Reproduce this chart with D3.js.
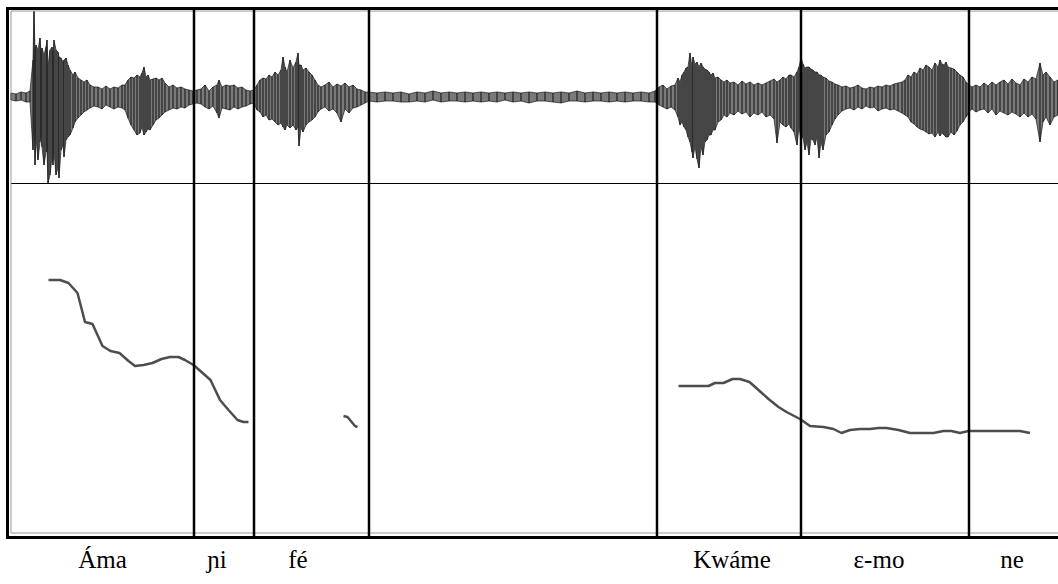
<!DOCTYPE html>
<html lang="en">
<head>
    <meta charset="UTF-8">
    <title>Waveform and pitch</title>
    <script src="https://d3js.org/d3.v7.min.js"></script>
    <style>
        body { margin: 0; background: #fff; }
        svg { display: block; }
    </style>
</head>
<body>
    <div id="chart"></div>
    <script>
        // time in ms, boundaries between syllables
        const boundaries = [366, 486, 716, 1292, 1580, 1916];

        const labels = ['Áma', 'ɲi', 'fé', 'Kwáme', 'ɛ-mo', 'ne'];
        const labelTimes = [183, 412, 574, 1442, 1736, 2002];

        // waveform envelope: [time ms, positive peak, negative peak]
        const waveSamples = [
            [0, .04, .03], [10, .03, .04], [20, .05, .03], [30, .04, .05], [38, .06, .05],
            [44, .37, .53], [46, .86, .2], [48, .45, .68], [50, .52, .4], [54, .47, .63],
            [58, .59, .45], [60, .45, .38], [62, .49, .5], [66, .42, .68], [70, .5, .55],
            [72, .57, .53], [74, .3, .86], [78, .47, .78], [82, .5, .6], [84, .4, .68],
            [86, .57, .55], [90, .47, .78], [94, .45, .7], [96, .4, .81], [100, .39, .53],
            [104, .35, .48], [106, .37, .6], [110, .39, .43], [114, .32, .4], [118, .27, .38],
            [124, .22, .31], [128, .25, .25], [134, .19, .21], [140, .17, .18], [146, .15, .15],
            [152, .17, .13], [158, .12, .11], [166, .1, .09], [174, .1, .1], [182, .08, .12],
            [190, .11, .08], [198, .08, .1], [206, .1, .12], [214, .09, .1], [222, .12, .11],
            [228, .12, .13], [234, .17, .21], [240, .2, .28], [246, .19, .33], [252, .22, .38],
            [258, .2, .36], [262, .24, .3], [266, .3, .38], [270, .2, .35], [274, .22, .32],
            [278, .17, .33], [284, .18, .28], [290, .19, .23], [296, .17, .21], [302, .19, .18],
            [308, .14, .15], [316, .1, .13], [324, .12, .11], [332, .09, .12], [340, .1, .1],
            [348, .08, .11], [356, .07, .08], [364, .06, .07], [372, .07, .06], [380, .08, .07],
            [388, .12, .1], [396, .06, .12], [404, .1, .09], [412, .12, .16], [416, .17, .21],
            [422, .1, .11], [430, .12, .12], [438, .11, .13], [446, .12, .1], [454, .09, .12],
            [462, .1, .1], [470, .07, .09], [478, .06, .07], [486, .07, .06], [492, .12, .13],
            [498, .17, .15], [504, .19, .2], [510, .18, .18], [516, .22, .23], [522, .2, .22],
            [528, .25, .25], [534, .22, .28], [540, .27, .26], [544, .4, .3], [548, .3, .33],
            [552, .25, .28], [558, .37, .31], [564, .29, .28], [570, .35, .33], [574, .44, .3],
            [576, .32, .49], [580, .32, .31], [584, .27, .35], [590, .29, .28], [596, .25, .25],
            [602, .22, .23], [608, .17, .2], [614, .12, .15], [620, .1, .12], [628, .12, .1],
            [636, .15, .14], [644, .1, .12], [652, .13, .16], [660, .11, .25], [668, .14, .12],
            [676, .1, .16], [684, .12, .11], [692, .08, .1], [700, .07, .08], [708, .05, .06],
            [716, .05, .04], [732, .04, .05], [748, .05, .04], [764, .04, .04], [780, .05, .05],
            [796, .03, .05], [812, .05, .04], [828, .04, .05], [844, .06, .03], [860, .04, .05],
            [876, .05, .04], [892, .04, .04], [908, .05, .05], [924, .04, .04], [940, .05, .05],
            [956, .04, .04], [972, .05, .05], [988, .04, .03], [1004, .05, .05], [1020, .04, .04],
            [1036, .05, .06], [1052, .04, .04], [1068, .05, .04], [1084, .04, .05], [1100, .05, .06],
            [1116, .04, .04], [1132, .06, .04], [1148, .04, .05], [1164, .05, .04], [1180, .04, .04],
            [1196, .05, .05], [1212, .04, .04], [1228, .05, .05], [1244, .04, .04], [1260, .05, .04],
            [1276, .04, .05], [1288, .06, .05], [1296, .1, .08], [1304, .12, .1], [1312, .08, .12],
            [1320, .11, .1], [1328, .12, .13], [1334, .19, .2], [1338, .15, .28], [1342, .22, .25],
            [1346, .25, .3], [1350, .29, .33], [1354, .3, .4], [1358, .44, .45], [1362, .3, .55],
            [1364, .4, .61], [1368, .33, .5], [1372, .35, .62], [1376, .3, .71], [1380, .34, .5],
            [1384, .3, .58], [1388, .28, .45], [1392, .27, .43], [1396, .25, .38], [1400, .22, .38],
            [1404, .24, .33], [1408, .19, .33], [1414, .2, .25], [1420, .17, .23], [1426, .15, .18],
            [1432, .17, .2], [1438, .14, .16], [1446, .15, .18], [1454, .12, .14], [1462, .16, .17],
            [1470, .13, .15], [1478, .15, .2], [1486, .12, .16], [1494, .14, .18], [1502, .12, .15],
            [1510, .14, .2], [1518, .16, .18], [1526, .18, .22], [1532, .15, .46], [1538, .17, .25],
            [1544, .2, .28], [1550, .18, .3], [1556, .22, .27], [1560, .22, .31], [1566, .2, .35],
            [1572, .25, .48], [1576, .3, .3], [1580, .39, .43], [1584, .33, .4], [1588, .29, .53],
            [1592, .3, .45], [1596, .3, .58], [1600, .28, .42], [1604, .27, .43], [1608, .25, .48],
            [1612, .25, .4], [1616, .22, .61], [1620, .22, .45], [1624, .2, .53], [1630, .19, .38],
            [1636, .16, .35], [1642, .15, .28], [1648, .13, .22], [1654, .12, .18], [1662, .1, .14],
            [1670, .11, .12], [1678, .09, .11], [1686, .1, .13], [1694, .12, .1], [1702, .09, .12],
            [1710, .08, .09], [1718, .1, .11], [1726, .09, .1], [1734, .11, .14], [1742, .1, .12],
            [1750, .12, .11], [1758, .11, .13], [1766, .13, .12], [1774, .14, .14], [1782, .15, .16],
            [1788, .17, .18], [1794, .22, .2], [1800, .2, .25], [1806, .25, .27], [1812, .23, .3],
            [1818, .29, .32], [1824, .27, .33], [1830, .32, .35], [1836, .3, .37], [1842, .27, .36],
            [1848, .34, .4], [1854, .3, .35], [1858, .37, .39], [1862, .33, .36], [1866, .32, .38],
            [1870, .35, .4], [1874, .3, .4], [1880, .29, .35], [1886, .28, .38], [1892, .25, .34],
            [1898, .22, .28], [1904, .2, .25], [1910, .15, .2], [1916, .12, .15], [1922, .1, .12],
            [1930, .12, .15], [1938, .1, .13], [1946, .14, .12], [1954, .11, .16], [1962, .15, .12],
            [1970, .12, .18], [1978, .15, .14], [1986, .17, .16], [1994, .13, .18], [2002, .18, .15],
            [2010, .14, .17], [2018, .12, .2], [2026, .18, .16], [2034, .15, .2], [2042, .2, .17],
            [2050, .18, .22], [2058, .34, .45], [2064, .22, .25], [2070, .25, .2], [2078, .2, .28],
            [2086, .15, .2], [2094, .17, .18]
        ];

        // pitch contours: [time ms, Hz]
        const pitchAma = [
            [75, 303], [98, 303], [115, 300], [133, 290], [148, 261], [163, 259], [183, 237],
            [199, 232], [217, 230], [235, 222], [248, 217], [265, 218], [283, 220], [301, 224],
            [318, 226], [335, 226], [348, 223], [365, 218], [381, 211], [399, 203], [418, 183],
            [435, 173], [453, 163], [465, 161], [475, 161]
        ];
        const pitchFe = [[665, 167], [673, 166], [688, 157], [693, 156]];
        const pitchKwame = [
            [1335, 197], [1395, 197], [1408, 200], [1425, 200], [1443, 204], [1458, 204],
            [1477, 201], [1495, 193], [1515, 184], [1535, 176], [1551, 171], [1578, 164],
            [1598, 157], [1625, 156], [1645, 154], [1661, 150], [1678, 153], [1698, 154],
            [1718, 154], [1735, 155], [1751, 155], [1775, 153], [1798, 150], [1845, 150],
            [1865, 152], [1881, 152], [1898, 150], [1915, 152], [2018, 152], [2038, 150]
        ];

        const width = 1058, height = 584;
        const left = 11, right = 1058;
        const waveTop = 11, split = 183, pitchBottom = 533;

        const svg = d3.select('#chart').append('svg')
            .attr('width', width)
            .attr('height', height);

        const x = d3.scaleLinear().domain([0, 2094]).range([left, right]);
        const yWave = d3.scaleLinear().domain([-0.86, 0.86]).range([split, waveTop]);
        const yPitch = d3.scaleLinear().domain([50, 400]).range([pitchBottom, split]);

        // waveform: grey body, then one dark stroke per peak
        const waveArea = d3.area()
            .x(d => x(d[0]))
            .y0(d => yWave(-d[2]))
            .y1(d => yWave(d[1]));

        svg.append('path')
            .datum(waveSamples)
            .attr('d', waveArea)
            .attr('fill', '#7a7a7a')
            .attr('stroke', '#1a1a1a')
            .attr('stroke-width', 0.7);

        svg.append('g').selectAll('line')
            .data(waveSamples)
            .enter().append('line')
            .attr('x1', d => x(d[0]))
            .attr('x2', d => x(d[0]))
            .attr('y1', d => yWave(-d[2]))
            .attr('y2', d => yWave(d[1]))
            .attr('stroke', '#111')
            .attr('stroke-width', 1);

        // pitch
        const pitchLine = d3.line()
            .x(d => x(d[0]))
            .y(d => yPitch(d[1]));

        [pitchAma, pitchFe, pitchKwame].forEach(seg => {
            svg.append('path')
                .datum(seg)
                .attr('d', pitchLine)
                .attr('fill', 'none')
                .attr('stroke', '#4d4d4d')
                .attr('stroke-width', 2.5)
                .attr('stroke-linejoin', 'round');
        });

        // frame
        svg.append('line')
            .attr('x1', left).attr('x2', right)
            .attr('y1', split + 0.5).attr('y2', split + 0.5)
            .attr('stroke', '#000').attr('stroke-width', 1);

        const inner = `M${right},${waveTop} H${left} V${pitchBottom} H${right}`;
        svg.append('path')
            .attr('d', inner)
            .attr('fill', 'none')
            .attr('stroke', '#999')
            .attr('stroke-width', 1);

        const outer = `M${right},8.5 H7.5 V537.5 H${right}`;
        svg.append('path')
            .attr('d', outer)
            .attr('fill', 'none')
            .attr('stroke', '#000')
            .attr('stroke-width', 3);

        svg.append('g').selectAll('line')
            .data(boundaries)
            .enter().append('line')
            .attr('x1', d => x(d))
            .attr('x2', d => x(d))
            .attr('y1', 10)
            .attr('y2', 536)
            .attr('stroke', '#000')
            .attr('stroke-width', 2.5);

        // syllable labels
        svg.append('g').selectAll('text')
            .data(labels)
            .enter().append('text')
            .attr('x', (d, i) => x(labelTimes[i]))
            .attr('y', 568)
            .attr('text-anchor', 'middle')
            .attr('font-family', '"Liberation Serif", "Times New Roman", serif')
            .attr('font-size', 25)
            .attr('fill', '#000')
            .text(d => d);
    </script>
</body>
</html>
